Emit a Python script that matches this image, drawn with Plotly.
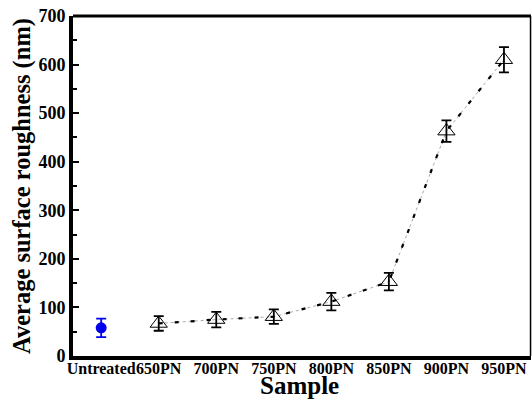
import plotly.graph_objects as go

categories = ["Untreated", "650PN", "700PN", "750PN", "800PN", "850PN", "900PN", "950PN"]
untreated_value = [58]
untreated_err = [19]
treated_cats = categories[1:]
treated_values = [67, 75, 81, 112, 153, 463, 610]
treated_errs = [15, 16, 15, 18, 18, 22, 26]

FONT = "Liberation Serif"
fig = go.Figure()

# thin grey dotted connector
fig.add_trace(go.Scatter(
    x=treated_cats, y=treated_values, mode="lines",
    line=dict(color="#aaaaaa", width=1, dash="dot"), showlegend=False, hoverinfo="skip"))
# black dashes overlay
fig.add_trace(go.Scatter(
    x=treated_cats, y=treated_values, mode="lines",
    line=dict(color="black", width=2.2, dash="4px,12px"), showlegend=False, hoverinfo="skip"))
# triangles with error bars
fig.add_trace(go.Scatter(
    x=treated_cats, y=treated_values, mode="markers",
    marker=dict(symbol="triangle-up-open", size=15, color="black", line=dict(width=1)),
    error_y=dict(type="data", array=treated_errs, color="black", thickness=1.8, width=5),
    showlegend=False))
# untreated
fig.add_trace(go.Scatter(
    x=categories[:1], y=untreated_value, mode="markers",
    marker=dict(symbol="circle", size=11, color="#0000ee"),
    error_y=dict(type="data", array=untreated_err, color="#0000ee", thickness=1.8, width=5),
    showlegend=False))

fig.update_layout(
    width=532, height=400,
    margin=dict(l=73, r=1, t=16, b=44),
    paper_bgcolor="white", plot_bgcolor="white",
    font=dict(family=FONT, color="black"),
    xaxis=dict(
        type="category", categoryorder="array", categoryarray=categories,
        range=[-0.49, 7.47], showgrid=False, zeroline=False,
        showline=True, linecolor="black", linewidth=4, ticks="",
        tickangle=0, automargin=False, ticklabelstandoff=-5,
        tickfont=dict(family=FONT, size=16, weight="bold"),
    ),
    yaxis=dict(
        range=[0, 700], tickvals=[0, 100, 200, 300, 400, 500, 600, 700],
        showgrid=False, zeroline=False, automargin=False,
        showline=True, linecolor="black", linewidth=4,
        ticks="inside", ticklen=6, tickwidth=2, tickcolor="black",
        minor=dict(tickvals=[50, 150, 250, 350, 450, 550, 650], ticks="inside", ticklen=4, tickwidth=2, tickcolor="black"),
        tickfont=dict(family=FONT, size=18, weight="bold"),
        title=dict(text="Average surface roughness (nm)", font=dict(family=FONT, size=24.5, weight="bold"), standoff=2),
    ),
    shapes=[
        dict(type="line", xref="paper", yref="paper", x0=0, x1=1, y0=1, y1=1, line=dict(color="black", width=3)),
        dict(type="line", xref="paper", yref="paper", x0=0.999, x1=0.999, y0=0, y1=1, line=dict(color="black", width=1.5)),
    ],
    annotations=[
        dict(text="Sample", xref="paper", yref="paper", x=0.495, y=-0.128, yanchor="bottom",
             showarrow=False, borderpad=0, font=dict(family=FONT, size=25, weight="bold")),
    ],
)

fig.write_html("out.html")
